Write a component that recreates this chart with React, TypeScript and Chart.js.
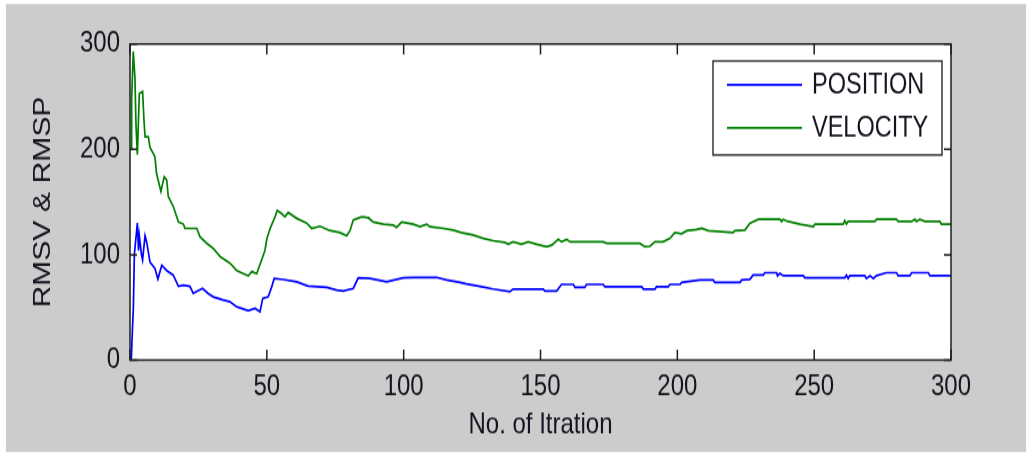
import React, { useEffect, useRef } from "react";
import { Chart, registerables } from "chart.js";

Chart.register(...registerables);

// ---- data ----
const xTicks = [0, 50, 100, 150, 200, 250, 300];
const yTicks = [0, 100, 200, 300];
const seriesLabels = ["POSITION", "VELOCITY"];

const positionIter = [
  0, 0.5, 0.9, 1.2, 1.6, 2.7, 3.1, 3.4, 4.2, 4.6,
  5.5, 6.1, 7.3, 9.1, 10.2, 11.6, 13.4, 15.8, 17.7, 19.5,
  21.9, 23.1, 26.5, 28.5, 30.4, 32.2, 34, 36.5, 39, 43.2,
  45.7, 47.5, 48.5, 50.5, 51.8, 52.7, 56, 60.9, 65.1, 71.9,
  75.5, 77.9, 81.6, 83.4, 87.7, 93.8, 99.9, 103.5, 112, 115.7,
  120.6, 123, 128.5, 132.7, 138.8, 140, 151, 151.6, 155.9, 157.7,
  162, 162.6, 166.2, 166.8, 172.9, 173.5, 187, 187.6, 191.8, 192.4,
  196.7, 197.3, 201, 201.6, 208.3, 213.1, 213.7, 222.9, 223.5, 226.5,
  227.7, 231.4, 232, 236.3, 236.6, 237.5, 238.7, 246, 246.6, 261.2,
  261.8, 262.4, 263, 268.5, 269.1, 270.4, 271.6, 272.8, 276.4, 280.1,
  280.7, 285, 285.6, 291.7, 292.3, 300,
];
const positionValues = [
  0, 2, 30, 47, 101, 130, 104, 118, 100, 95,
  118, 112, 93, 87, 77, 90, 85, 80.7, 70, 71,
  70, 63.3, 68, 63.3, 60, 58.5, 57, 55.4, 50.6, 46.8,
  49, 45.9, 58.5, 60, 69.6, 77.5, 76.5, 74.3, 70.3, 69,
  66.5, 65.5, 68, 78, 77.5, 74.3, 78, 78.5, 78.5, 76,
  73.8, 72.2, 69.6, 67.4, 64.9, 67.4, 67.4, 65.5, 65.5, 71.8,
  71.8, 69, 69, 71.8, 71.8, 69.6, 69.6, 67.4, 67.4, 69.6,
  69.6, 71.8, 71.8, 73.7, 76, 76, 73.7, 73.7, 76, 76.6,
  80.7, 80.7, 82.9, 82.9, 80, 82.3, 80.1, 80.1, 78.2, 78.2,
  80.7, 77.5, 80.1, 80.1, 77.5, 80.1, 77.5, 80.1, 82.9, 82.9,
  80.1, 80.1, 82.9, 82.9, 80.1, 80.1,
];

const velocityIter = [
  0.5, 0.6, 1.2, 1.8, 2.2, 2.7, 3.4, 4.6, 5.1, 5.5,
  6.7, 7.3, 9.1, 9.7, 11.3, 12.5, 13.4, 14, 15.8, 17.7,
  19.5, 20.1, 24.4, 25.6, 28, 30.4, 33, 36.5, 39, 43.2,
  44.5, 46.3, 48.1, 49.3, 50, 51.2, 53, 53.8, 55.4, 56.6,
  57.8, 60.9, 64.5, 66.4, 69.4, 73, 76.7, 79.2, 80.4, 81.6,
  84.7, 87.1, 88.9, 92.6, 96.2, 97.4, 99.3, 103.5, 106, 108.4,
  109.6, 114.5, 118.1, 121, 125.4, 129.1, 132.7, 137, 138.2, 140,
  143.1, 145.5, 148.6, 152.2, 154.1, 156.5, 157.7, 159.6, 160.8, 172.9,
  174.2, 186.3, 188.2, 190, 191.8, 194.8, 197.3, 199.1, 201.6, 203.4,
  207, 209, 211.3, 220.4, 221, 224.7, 226.5, 229.6, 237.5, 238.1,
  238.7, 240.5, 244.8, 249.7, 250.3, 260.6, 261.2, 261.8, 262.4, 272.2,
  272.8, 280.1, 280.7, 285.6, 286.8, 287.4, 288.6, 290.5, 295.9, 296.5,
  300,
];
const velocityValues = [
  200, 247, 293, 268, 222, 195, 253, 255, 228, 212,
  212, 202, 193, 177, 160, 174, 171, 155, 146, 131,
  129, 125, 125, 117, 111, 106, 98, 92, 85, 80,
  84, 82, 95, 104, 115, 125, 136, 142, 139, 136,
  140, 134.5, 130, 125, 127, 123, 121, 118, 123, 133,
  136, 135, 131, 129, 128, 126, 131, 129, 126.6, 129,
  126.6, 125, 123.4, 121, 118.7, 115.5, 113.3, 111.7, 110, 112.3,
  110, 112.3, 110, 107.6, 109, 114.6, 112.3, 114.6, 112.3, 112.3,
  110.8, 110.8, 107.6, 108, 112.3, 112.3, 115.5, 121, 120, 122.8,
  124, 125, 122.8, 121, 122.8, 123.4, 129.7, 133.6, 133.6, 131.5,
  133.6, 131.5, 129, 126.6, 129, 129, 132.3, 129, 131.5, 131.5,
  133.6, 133.6, 131.5, 131.5, 133.6, 131.5, 133.6, 131.5, 131.5, 129,
  129,
];

// The reference figure is a MATLAB plot stretched vertically; the canvas is
// drawn at its natural height and displayed stretched by the same factor.
const PAGE_W = 1026;
const PAGE_H = 453;
const CANVAS_H = 368;
const S = PAGE_H / CANVAS_H;

const FONT = "'Liberation Sans', Arial, Helvetica, sans-serif";
const TEXT = "#14141e";

const framePlugin = {
  id: "matlabFrame",
  beforeDraw(chart: any) {
    const { ctx, width, height, chartArea: a } = chart;
    ctx.save();
    ctx.fillStyle = "#ffffff";
    ctx.fillRect(0, 0, width, height);
    ctx.fillStyle = "#cccccc";
    ctx.fillRect(6, 4 / S, width - 6, (PAGE_H - 5) / S);
    ctx.fillStyle = "#ffffff";
    ctx.fillRect(a.left, a.top, a.right - a.left, a.bottom - a.top);
    ctx.restore();
  },
  afterDatasetsDraw(chart: any) {
    const { ctx, chartArea: a, scales } = chart;
    ctx.save();
    ctx.strokeStyle = "#1e1e1e";
    ctx.lineWidth = 1.5;
    ctx.strokeRect(a.left, a.top, a.right - a.left, a.bottom - a.top);
    ctx.beginPath();
    scales.x.ticks.forEach((t: any) => {
      const px = scales.x.getPixelForValue(t.value);
      ctx.moveTo(px, a.bottom);
      ctx.lineTo(px, a.bottom - 8.5);
      ctx.moveTo(px, a.top);
      ctx.lineTo(px, a.top + 8.5);
    });
    scales.y.ticks.forEach((t: any) => {
      const py = scales.y.getPixelForValue(t.value);
      ctx.moveTo(a.left, py);
      ctx.lineTo(a.left + 7, py);
      ctx.moveTo(a.right, py);
      ctx.lineTo(a.right - 7, py);
    });
    ctx.stroke();

    // legend box (inside the axes, top right)
    const bx = a.right - 238;
    const by = a.top + 13.8;
    const bw = 229;
    const bh = 76.4;
    ctx.fillStyle = "#ffffff";
    ctx.fillRect(bx, by, bw, bh);
    ctx.strokeStyle = "#2a2a2a";
    ctx.lineWidth = 1.4;
    ctx.strokeRect(bx, by, bw, bh);
    chart.data.datasets.forEach((ds: any, i: number) => {
      const ly = by + 19.4 + i * 35;
      ctx.strokeStyle = ds.borderColor;
      ctx.lineWidth = 1.7;
      ctx.beginPath();
      ctx.moveTo(bx + 14, ly);
      ctx.lineTo(bx + 89, ly);
      ctx.stroke();
      ctx.fillStyle = TEXT;
      ctx.font = `23.5px ${FONT}`;
      ctx.textBaseline = "middle";
      ctx.textAlign = "left";
      ctx.fillText(ds.label, bx + 99, ly + 1);
    });
    ctx.restore();
  },
};

export default function App() {
  const ref = useRef<HTMLCanvasElement | null>(null);
  useEffect(() => {
    if (!ref.current) return;
    const toPts = (xs: number[], ys: number[]) => xs.map((x, i) => ({ x, y: ys[i] }));
    const chart = new Chart(ref.current, {
      type: "line",
      data: {
        datasets: [
          {
            label: seriesLabels[0],
            data: toPts(positionIter, positionValues),
            borderColor: "#0000ff",
            borderWidth: 1.7,
            pointRadius: 0,
            tension: 0,
            fill: false,
          },
          {
            label: seriesLabels[1],
            data: toPts(velocityIter, velocityValues),
            borderColor: "#008000",
            borderWidth: 1.7,
            pointRadius: 0,
            tension: 0,
            fill: false,
          },
        ],
      },
      options: {
        animation: false,
        responsive: false,
        devicePixelRatio: 1,
        layout: { padding: { left: 0, top: 44 / S, right: 75, bottom: 0 } },
        plugins: { legend: { display: false }, tooltip: { enabled: false } },
        scales: {
          x: {
            type: "linear",
            min: xTicks[0],
            max: xTicks[xTicks.length - 1],
            afterBuildTicks: (s: any) => {
              s.ticks = xTicks.map((v) => ({ value: v }));
            },
            afterFit: (s: any) => {
              s.height = 93 / S;
            },
            ticks: {
              font: { family: FONT, size: 24 },
              color: TEXT,
              padding: 8,
              maxRotation: 0,
              autoSkip: false,
            },
            grid: { display: false, drawTicks: false },
            border: { display: false },
            title: {
              display: true,
              text: "No. of Itration",
              color: TEXT,
              font: { family: FONT, size: 24 },
              padding: { top: 0, bottom: 8 },
            },
          },
          y: {
            type: "linear",
            min: yTicks[0],
            max: yTicks[yTicks.length - 1],
            afterBuildTicks: (s: any) => {
              s.ticks = yTicks.map((v) => ({ value: v }));
            },
            afterFit: (s: any) => {
              s.width = 130;
            },
            ticks: {
              font: { family: FONT, size: 24 },
              color: TEXT,
              padding: 10,
              autoSkip: false,
            },
            grid: { display: false, drawTicks: false },
            border: { display: false },
            title: {
              display: true,
              text: "RMSV & RMSP",
              color: TEXT,
              font: { family: FONT, size: 24.5 },
              padding: { top: 29, bottom: 0 },
            },
          },
        },
      },
      plugins: [framePlugin],
    } as any);
    return () => chart.destroy();
  }, []);
  return (
    <div style={{ position: "absolute", left: 0, top: 0, width: PAGE_W, height: PAGE_H }}>
      <canvas
        ref={ref}
        width={PAGE_W}
        height={CANVAS_H}
        style={{ display: "block", width: PAGE_W, height: PAGE_H }}
      />
    </div>
  );
}
